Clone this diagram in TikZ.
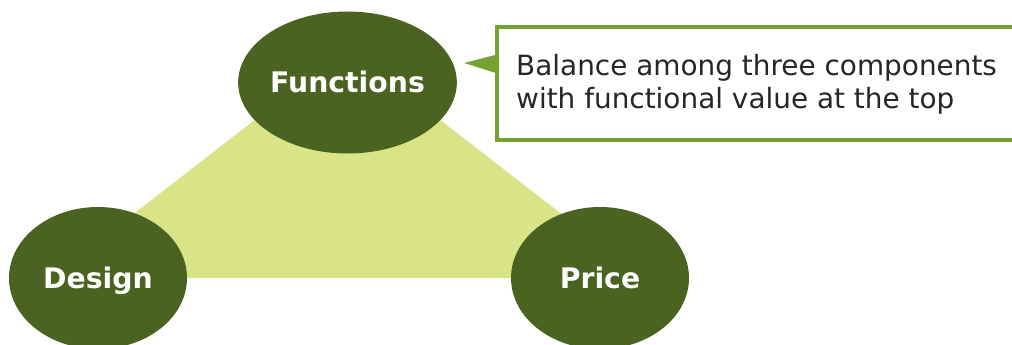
\documentclass[tikz,border=0pt]{standalone}
\usepackage{fontspec}
\setmainfont{DejaVu Sans}
\usetikzlibrary{shapes.geometric}
\definecolor{leaf}{HTML}{4A6320}
\definecolor{lime}{HTML}{D8E486}
\definecolor{frame}{HTML}{76A232}
\definecolor{ink}{HTML}{262626}
\begin{document}
\begin{tikzpicture}[x=1pt,y=-1pt,
  pillar/.style={ellipse, fill=leaf, minimum width=178pt, minimum height=142pt,
    inner sep=0pt, text=white, font=\fontsize{28.3}{34}\selectfont\bfseries,
    text height=20.6pt, text depth=0pt},
  notebox/.style={draw=frame, line width=4pt, fill=white, inner sep=0pt,
    minimum width=519pt, minimum height=113pt},
  noteline/.style={anchor=base west, inner sep=0pt, text=ink,
    font=\fontsize{27.9}{33}\selectfont}]
\useasboundingbox (0,0) rectangle (1012,345);
\clip (0,0) rectangle (1012,345);
% backing triangle joining the three pillars
\fill[lime] (347.5,48) -- (51,278) -- (644,278) -- cycle;
% the three pillars
\node[pillar] (func) at (347.5,82.5) {Functions};
\node[pillar] (design) at (98,278) {Design};
\node[pillar] (price) at (600,278) {Price};
% callout with its pointer
\node[notebox] (callout) at (756.5,83.5) {};
\fill[frame] (499,54) -- (464,63) -- (499,74) -- cycle;
\node[noteline] (lineA) at (516,75) {Balance among three components};
\node[noteline] (lineB) at (516,108) {with functional value at the top};
\end{tikzpicture}
\end{document}
